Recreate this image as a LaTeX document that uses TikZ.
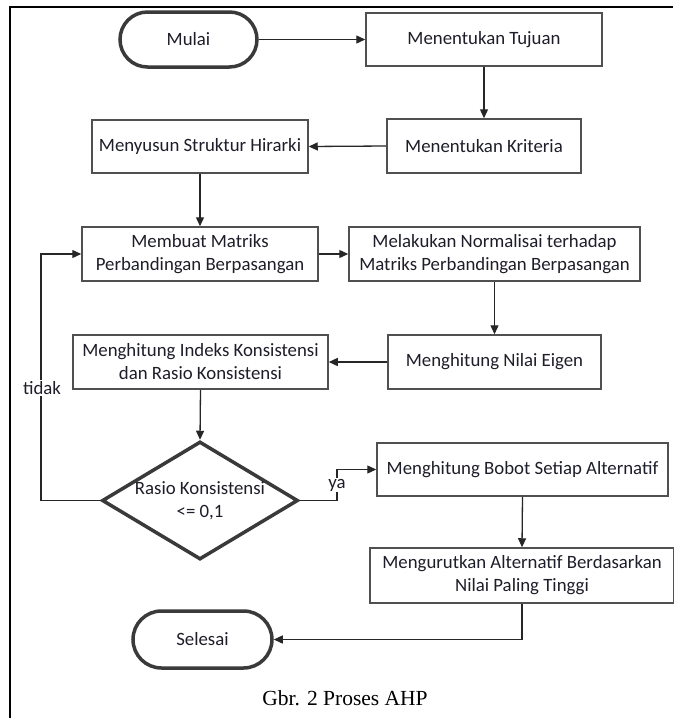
\documentclass[tikz,border=0pt]{standalone}
\usepackage{fontspec}
\setmainfont{Carlito}
\newfontfamily\capfont{Liberation Serif}
\usetikzlibrary{shapes.geometric,shapes.misc,arrows.meta}
\definecolor{txtc}{HTML}{1E1E2A}
\definecolor{boxc}{HTML}{505050}
\definecolor{thickc}{HTML}{3A3A3A}
\begin{document}
\begin{tikzpicture}[x=1pt,y=-1pt,
  font=\fontsize{18.8}{23}\selectfont,
  procbox/.style={draw=boxc, line width=1.5pt, fill=white, text=txtc, align=center, inner sep=0pt, minimum height=54pt},
  term/.style={rounded rectangle, draw=thickc, line width=3.5pt, fill=white, text=txtc, inner sep=0pt, minimum height=55pt},
  dec/.style={diamond, draw=thickc, line width=3.5pt, fill=white, inner sep=0pt, minimum width=196pt, minimum height=118pt},
  conn/.style={draw=black!85, line width=1.3pt, -{Triangle[length=9pt,width=8pt]}},
  lbl/.style={fill=white, text=txtc, inner sep=1pt},
  frame/.style={draw=black, line width=1.4pt}
]
\useasboundingbox (0,0) rectangle (673,718);
\fill[white] (0,0) rectangle (673,718);
% frame
\coordinate (fbl) at (10,718);
\coordinate (ftl) at (10,7);
\coordinate (ftr) at (673,7);
\draw[frame] (fbl) -- (ftl) -- (ftr);

% nodes
\node[term, minimum width=137pt] (mulai) at (188.5,39.5) {Mulai};
\node[procbox, minimum width=236pt, minimum height=53pt] (tujuan) at (484,39.5) {Menentukan Tujuan};
\node[procbox, minimum width=194pt] (kriteria) at (484,146) {Menentukan Kriteria};
\node[procbox, minimum width=216pt, minimum height=53pt] (hirarki) at (200,146.5) {Menyusun Struktur Hirarki};
\node[procbox, minimum width=236pt] (matriks) at (200,254) {Membuat Matriks\\Perbandingan Berpasangan};
\node[procbox, minimum width=291pt] (normal) at (494.5,254) {Melakukan Normalisai terhadap\\Matriks Perbandingan Berpasangan};
\node[procbox, minimum width=213pt] (eigen) at (494.5,362) {Menghitung Nilai Eigen};
\node[procbox, minimum width=255pt] (indeks) at (200.5,362) {Menghitung Indeks Konsistensi\\dan Rasio Konsistensi};
\node[dec] (dia) at (200,500.5) {};
\node[text=txtc, align=center, inner sep=0pt] (diatext) at (dia.center) {Rasio Konsistensi\\<= 0,1};
\node[procbox, minimum width=291pt, minimum height=53pt] (bobot) at (522.5,469.5) {Menghitung Bobot Setiap Alternatif};
\node[procbox, minimum width=304pt, minimum height=55pt] (urut) at (522,575.5) {Mengurutkan Alternatif Berdasarkan\\Nilai Paling Tinggi};
\node[term, minimum width=139pt, minimum height=57pt] (selesai) at (202.5,639.5) {Selesai};
\node[text=black, inner sep=0pt, font=\capfont\fontsize{21.5}{24}\selectfont] (cap) at (345,698) {Gbr. 2 Proses AHP};

% connectors
\draw[conn] (mulai.east) -- (tujuan.west);
\draw[conn] (tujuan.south) -- (kriteria.north);
\draw[conn] (kriteria.west) -- (hirarki.east);
\draw[conn] (hirarki.south) -- (matriks.north);
\draw[conn] (matriks.east) -- (normal.west);
\draw[conn] (normal.south) -- (eigen.north);
\draw[conn] (eigen.west) -- (indeks.east);
\draw[conn] (indeks.south) -- (dia.north);
\coordinate (loopb) at (41,500.5);
\draw[conn] (dia.west) -- (loopb) |- (matriks.west);
\node[lbl] (tidak) at (42,388) {tidak};
\coordinate (yab) at (337,500.5);
\draw[conn] (dia.east) -- (yab) |- (bobot.west);
\node[lbl] (ya) at (337,485) {ya};
\draw[conn] (bobot.south) -- (urut.north);
\draw[conn] (urut.south) |- (selesai.east);
\end{tikzpicture}
\end{document}
